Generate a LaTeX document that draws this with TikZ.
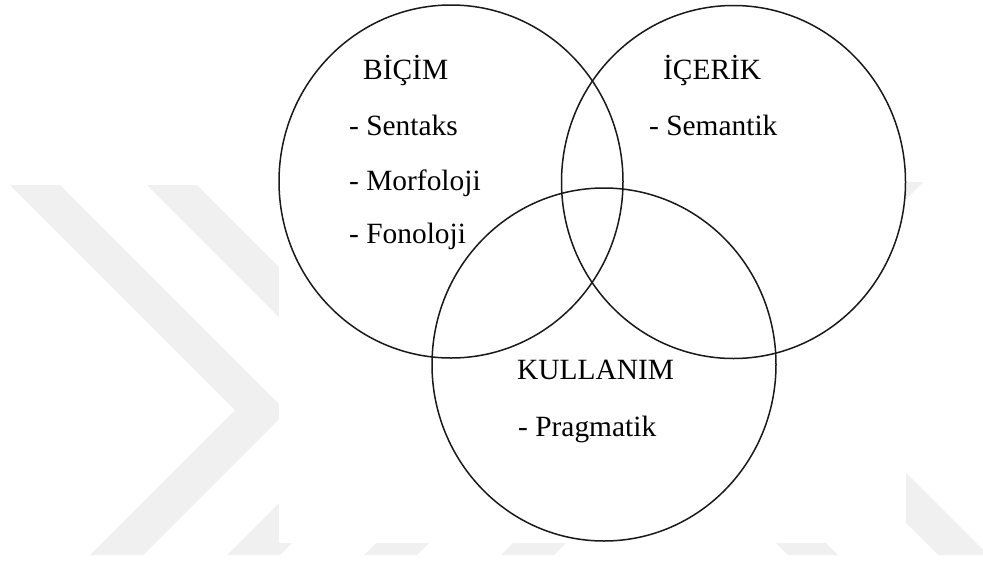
\documentclass[tikz,border=0pt]{standalone}
\usepackage{fontspec}
\setmainfont{Liberation Serif}
\usetikzlibrary{shapes.geometric}
\begin{document}
\begin{tikzpicture}[x=1pt,y=-1pt,
  venn/.style={draw=black!90, line width=1.5pt, ellipse, inner sep=0pt, minimum width=344pt, minimum height=353pt},
  lbl/.style={anchor=base west, inner sep=0pt, font=\fontsize{29.4}{35}\selectfont, text=black},
  wm/.style={fill=black!6, draw=none}]
\useasboundingbox (0,0) rectangle (983,563);
\fill[white] (0,0) rectangle (983,563);
% faint watermark chevrons
\foreach \s in {0,137,274,411} {
  \fill[wm] (10+\s,185) -- (60+\s,185) -- (286.5+\s,411.5) -- (143+\s,555) -- (90+\s,555) -- (235+\s,410) -- cycle;
}
\foreach \s in {-150,0} {
  \fill[wm] (873+\s,182) -- (923+\s,182) -- (769+\s,336) -- (988+\s,555) -- (938+\s,555) -- (719+\s,336) -- cycle;
}
% white panel of the figure
\fill[white] (279,0) rectangle (906,543);
% circles
\node[venn] (bicimc) at (451,181.5) {};
\node[venn] (icerikc) at (733.5,182) {};
\node[venn] (kullc) at (604,364.5) {};
% texts
\node[lbl] (bicim) at (363,79) {BİÇİM};
\node[lbl] (sentaks) at (349,135) {- Sentaks};
\node[lbl] (morf) at (349,190) {- Morfoloji};
\node[lbl] (fon) at (349,243) {- Fonoloji};
\node[lbl] (icerik) at (663,79) {İÇERİK};
\node[lbl] (sem) at (649,135) {- Semantik};
\node[lbl] (kull) at (517,379) {KULLANIM};
\node[lbl] (prag) at (518,436) {- Pragmatik};
\end{tikzpicture}
\end{document}
